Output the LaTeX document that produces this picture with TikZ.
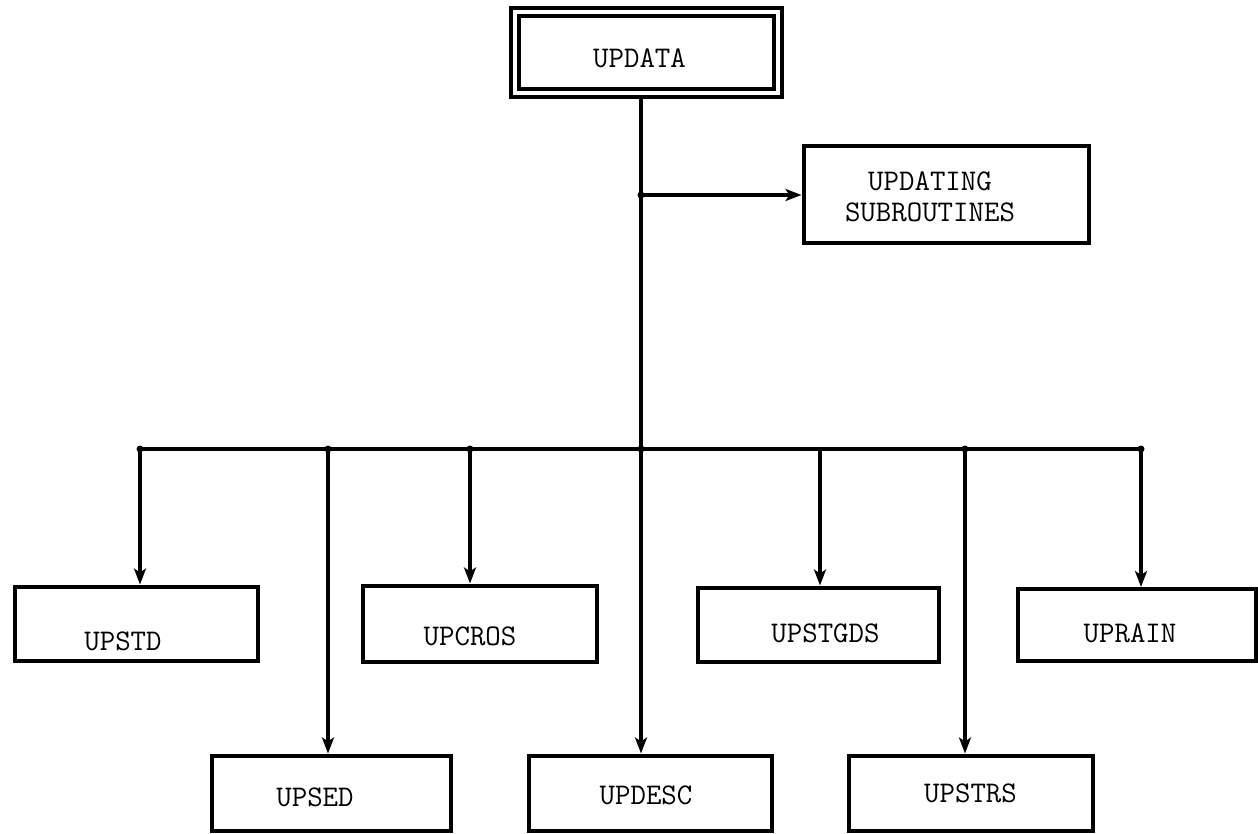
\documentclass[tikz,border=0pt]{standalone}
\usetikzlibrary{arrows.meta}
\begin{document}
\begin{tikzpicture}[x=1pt,y=-1pt,
  line width=3.2pt, line join=miter,
  box/.style={draw, rectangle, inner sep=0pt, line width=4pt},
  lbl/.style={font=\fontsize{30}{31}\selectfont\ttfamily, text=black, align=center},
  arr/.style={-{Stealth[length=16pt,width=12pt,inset=4pt]}},
  jdot/.style={circle, fill, inner sep=0pt, minimum size=7pt}]
\useasboundingbox (0,0) rectangle (1258,834);

% main program and its helper group
\node[box, double=white, double distance=4pt, line width=3.8pt,
      minimum width=263pt, minimum height=81pt,
      label={[lbl, name=tupdata, xshift=-7pt, yshift=-6pt]center:UPDATA}]
      (updata) at (646.5,52.5) {};
\node[box, minimum width=285pt, minimum height=97pt,
      label={[lbl, name=tupdsub, xshift=-16pt, yshift=-2pt]center:UPDATING\\SUBROUTINES}]
      (updsub) at (946,195) {};

% first row of update routines
\node[box, minimum width=243pt, minimum height=74pt,
      label={[lbl, name=tupstd, xshift=-13pt, yshift=-18pt]center:UPSTD}]
      (upstd) at (136,623.5) {};
\node[box, minimum width=234pt, minimum height=76pt,
      label={[lbl, name=tupcros, xshift=-10pt, yshift=-13pt]center:UPCROS}]
      (upcros) at (480,623.5) {};
\node[box, minimum width=241pt, minimum height=74pt,
      label={[lbl, name=tupstgds, xshift=7pt, yshift=-9pt]center:UPSTGDS}]
      (upstgds) at (818.5,624.5) {};
\node[box, minimum width=238pt, minimum height=72pt,
      label={[lbl, name=tuprain, xshift=-7pt, yshift=-8pt]center:UPRAIN}]
      (uprain) at (1137,625) {};

% second row of update routines
\node[box, minimum width=239pt, minimum height=75pt,
      label={[lbl, name=tupsed, xshift=-16pt, yshift=-4pt]center:UPSED}]
      (upsed) at (331,793) {};
\node[box, minimum width=243pt, minimum height=75pt,
      label={[lbl, name=tupdesc, xshift=-4pt, yshift=-2pt]center:UPDESC}]
      (updesc) at (650,793) {};
\node[box, minimum width=244pt, minimum height=75pt,
      label={[lbl, name=tupstrs, xshift=0pt, yshift=0pt]center:UPSTRS}]
      (upstrs) at (970.5,793) {};

% junctions on the trunk and on the distribution bus
\coordinate (br) at (641,195);
\coordinate (j1) at (140,449);
\coordinate (j2) at (328,449);
\coordinate (j3) at (470,449);
\coordinate (j4) at (641,449);
\coordinate (j5) at (820,449);
\coordinate (j6) at (965,449);
\coordinate (j7) at (1141,449);

% trunk and bus
\draw (updata.south -| j4) -- (j4);
\draw (j1) -- (j7);
\draw[arr] (br) -- (updsub.west);

% drops to the routines
\draw[arr] (j1) -- (j1 |- upstd.north);
\draw[arr] (j2) -- (j2 |- upsed.north);
\draw[arr] (j3) -- (j3 |- upcros.north);
\draw[arr] (j4) -- (j4 |- updesc.north);
\draw[arr] (j5) -- (j5 |- upstgds.north);
\draw[arr] (j6) -- (j6 |- upstrs.north);
\draw[arr] (j7) -- (j7 |- uprain.north);

\foreach \j in {br,j1,j2,j3,j4,j6,j7}
  \node[jdot] at (\j) {};
\end{tikzpicture}
\end{document}
